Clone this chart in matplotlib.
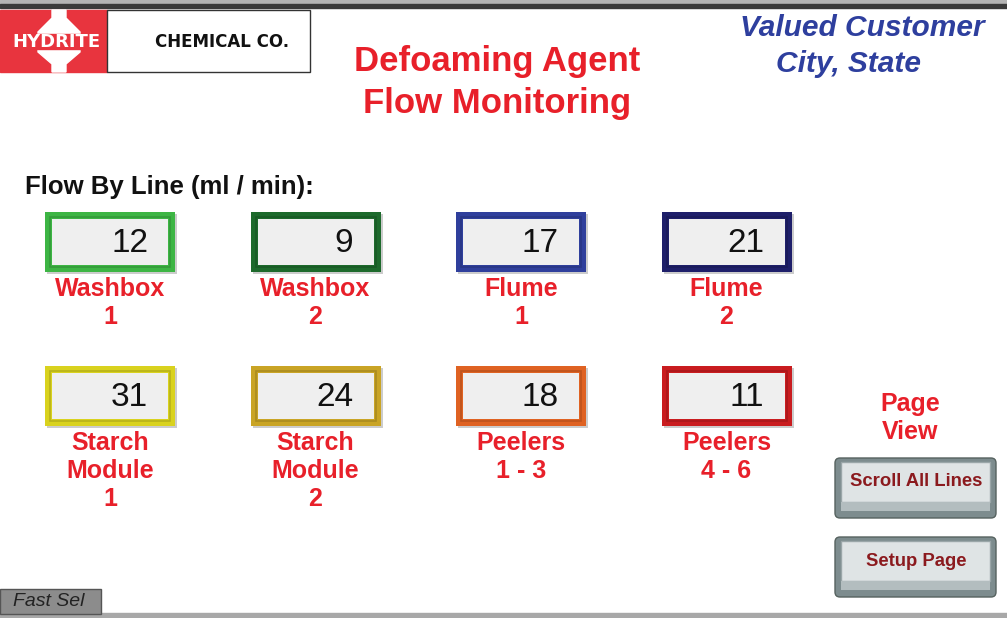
import matplotlib
matplotlib.use("Agg")
import matplotlib.pyplot as plt
from matplotlib.patches import Rectangle, FancyBboxPatch, Polygon

plt.rcParams['font.family'] = ['Liberation Sans', 'DejaVu Sans']

# flow values per line (ml / min)
line_names = ["Washbox\n1", "Washbox\n2", "Flume\n1", "Flume\n2",
              "Starch\nModule\n1", "Starch\nModule\n2", "Peelers\n1 - 3", "Peelers\n4 - 6"]
flow_values = [12, 9, 17, 21, 31, 24, 18, 11]
frame_colors = ["#3db544", "#1d6a2c", "#2f3f9c", "#1e1f6a",
                "#d9d21e", "#c9a425", "#df6222", "#c91c1f"]
buttons = ["Scroll All Lines", "Setup Page"]

W, H = 1007, 618
fig = plt.figure(figsize=(W / 100, H / 100), dpi=100)
ax = fig.add_axes([0, 0, 1, 1])
ax.set_xlim(0, W)
ax.set_ylim(H, 0)
ax.axis("off")

red = "#e8202a"

# top and bottom bars
ax.add_patch(Rectangle((0, 0), W, 4, color="#b4b4b4"))
ax.add_patch(Rectangle((0, 4), W, 4, color="#3a3a3a"))
ax.add_patch(Rectangle((0, 613), W, 5, color="#a8a8a8"))

# logo
ax.add_patch(Rectangle((0, 10), 107, 62, color="#e8343e"))
ax.add_patch(Polygon([(52, 10), (66, 10), (66, 18), (80, 32), (80, 52), (66, 64), (66, 72),
                      (52, 72), (52, 64), (38, 52), (38, 32), (52, 18)], color="white"))
ax.add_patch(Rectangle((4, 34), 100, 15, color="#e8343e"))
ax.text(56, 42, "HYDRITE", color="white", fontsize=13, fontweight="bold",
        family="DejaVu Sans", ha="center", va="center")
ax.add_patch(Rectangle((107, 10), 203, 62, facecolor="white", edgecolor="#333333", lw=1))
ax.text(222, 42, "CHEMICAL CO.", color="#111111", fontsize=12, fontweight="bold",
        family="DejaVu Sans", ha="center", va="center")

# titles
ax.text(497, 62, "Defoaming Agent", color=red, fontsize=25, fontweight="bold",
        ha="center", va="center")
ax.text(497, 103, "Flow Monitoring", color=red, fontsize=25, fontweight="bold",
        ha="center", va="center")
ax.text(862, 28, "Valued Customer", color="#2e3f9e", fontsize=21.5, fontweight="bold",
        style="italic", ha="center", va="center")
ax.text(848, 64, "City, State", color="#2e3f9e", fontsize=21.5, fontweight="bold",
        style="italic", ha="center", va="center")
ax.text(25, 187, "Flow By Line (ml / min):", color="#111111", fontsize=18.5,
        fontweight="bold", ha="left", va="center")

# value boxes
bw, bh = 130, 60
for i, (name, val, col) in enumerate(zip(line_names, flow_values, frame_colors)):
    x0 = 45 + (i % 4) * 205.5
    y0 = 212 + (i // 4) * 154
    ax.add_patch(Rectangle((x0 + 2, y0 + 2), bw, bh, facecolor="#cccccc", edgecolor="none"))
    ax.add_patch(Rectangle((x0, y0), bw, bh, facecolor=col, edgecolor="none"))
    ax.add_patch(Rectangle((x0 + 5, y0 + 5), bw - 10, bh - 10, facecolor="none",
                           edgecolor="black", lw=1.2, alpha=0.15))
    ax.add_patch(Rectangle((x0 + 7, y0 + 7), bw - 14, bh - 14, facecolor="#efefef",
                           edgecolor="none"))
    ax.text(x0 + bw - 27, y0 + bh / 2 + 1, str(val), color="#111111", fontsize=24,
            ha="right", va="center")
    for k, ln in enumerate(name.split("\n")):
        ax.text(x0 + bw / 2, y0 + 77 + 28 * k, ln, color=red, fontsize=18,
                fontweight="bold", ha="center", va="center")

# page view buttons
ax.text(910, 404, "Page", color=red, fontsize=18, fontweight="bold",
        ha="center", va="center")
ax.text(910, 432, "View", color=red, fontsize=18, fontweight="bold",
        ha="center", va="center")
for j, lab in enumerate(buttons):
    y0 = 458 + j * 79
    ax.add_patch(FancyBboxPatch((835, y0), 161, 60, boxstyle="round,pad=0,rounding_size=5",
                                facecolor="#7d8c8e", edgecolor="#56625f", lw=1))
    ax.add_patch(Rectangle((841, y0 + 4), 149, 40, facecolor="#dfe4e5", edgecolor="#9aa6a8"))
    ax.add_patch(Rectangle((841, y0 + 44), 149, 9, facecolor="#b3bdbf", edgecolor="none"))
    ax.text(916, y0 + 24, lab, color="#8b1a1e", fontsize=13.3, fontweight="bold",
            ha="center", va="center")

# fast sel tag
ax.add_patch(Rectangle((0, 589), 101, 25, facecolor="#8c8c8c", edgecolor="#555555", lw=1))
ax.text(49, 602, "Fast Sel", color="#222222", fontsize=14, style="italic",
        ha="center", va="center")

fig.savefig("out.png", dpi=100)
